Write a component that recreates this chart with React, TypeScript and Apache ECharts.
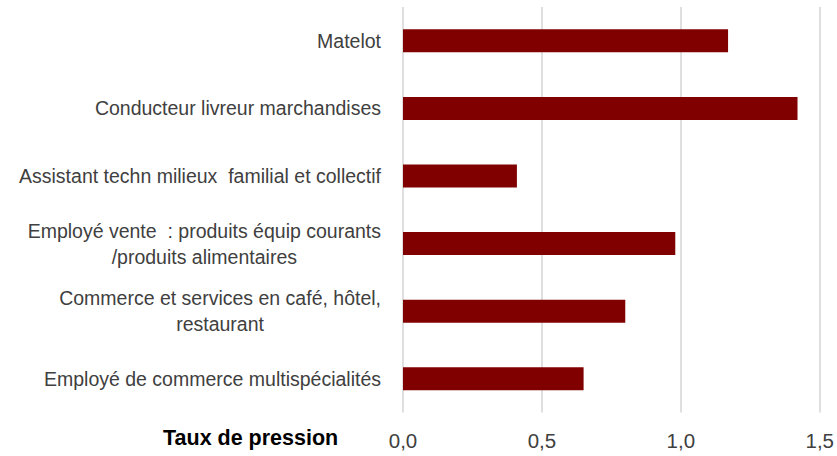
import React, { useEffect, useRef } from "react";
import * as echarts from "echarts";

const categories = [
  "Matelot",
  "Conducteur livreur marchandises",
  "Assistant techn milieux  familial et collectif",
  "Employé vente  : produits équip courants\n/produits alimentaires",
  "Commerce et services en café, hôtel,\nrestaurant",
  "Employé de commerce multispécialités",
];
const values = [1.17, 1.42, 0.41, 0.98, 0.8, 0.65];
const xTicks = { min: 0, max: 1.5, interval: 0.5 };
const axisTitle = "Taux de pression";

export default function App() {
  const ref = useRef<HTMLDivElement>(null);
  useEffect(() => {
    const chart = echarts.init(ref.current!, null, { renderer: "svg" });
    const font = "'Liberation Sans', Arial, sans-serif";
    chart.setOption({
      animation: false,
      grid: { left: 403, right: 17, top: 7, bottom: 43.5, containLabel: false },
      title: {
        text: axisTitle,
        left: 163,
        top: 427,
        padding: 0,
        textStyle: { fontFamily: font, fontSize: 21.5, fontWeight: "bold", color: "#000" },
      },
      xAxis: {
        type: "value",
        min: xTicks.min,
        max: xTicks.max,
        interval: xTicks.interval,
        axisLine: { show: false },
        axisTick: { show: false },
        splitLine: { lineStyle: { color: "#d4d4d4", width: 1.5 } },
        axisLabel: {
          margin: 17,
          fontFamily: font,
          fontSize: 20.5,
          color: "#404040",
          formatter: (v: number) => v.toFixed(1).replace(".", ","),
        },
      },
      yAxis: {
        type: "category",
        data: categories,
        inverse: true,
        axisLine: { show: false },
        axisTick: { show: false },
        splitLine: { show: false },
        axisLabel: {
          margin: 22,
          formatter: (v: string) =>
            v
              .split("\n")
              .map((l) => `{c|${l}}`)
              .join("\n"),
          rich: {
            c: {
              align: "center",
              fontFamily: font,
              fontSize: 19.5,
              lineHeight: 26,
              color: "#404040",
            },
          },
        },
      },
      series: [
        {
          type: "bar",
          data: values,
          barWidth: 23,
          itemStyle: { color: "#800000" },
        },
      ],
    });
    return () => chart.dispose();
  }, []);
  return <div ref={ref} style={{ width: 837, height: 456, position: "absolute", left: 0, top: 0 }} />;
}
